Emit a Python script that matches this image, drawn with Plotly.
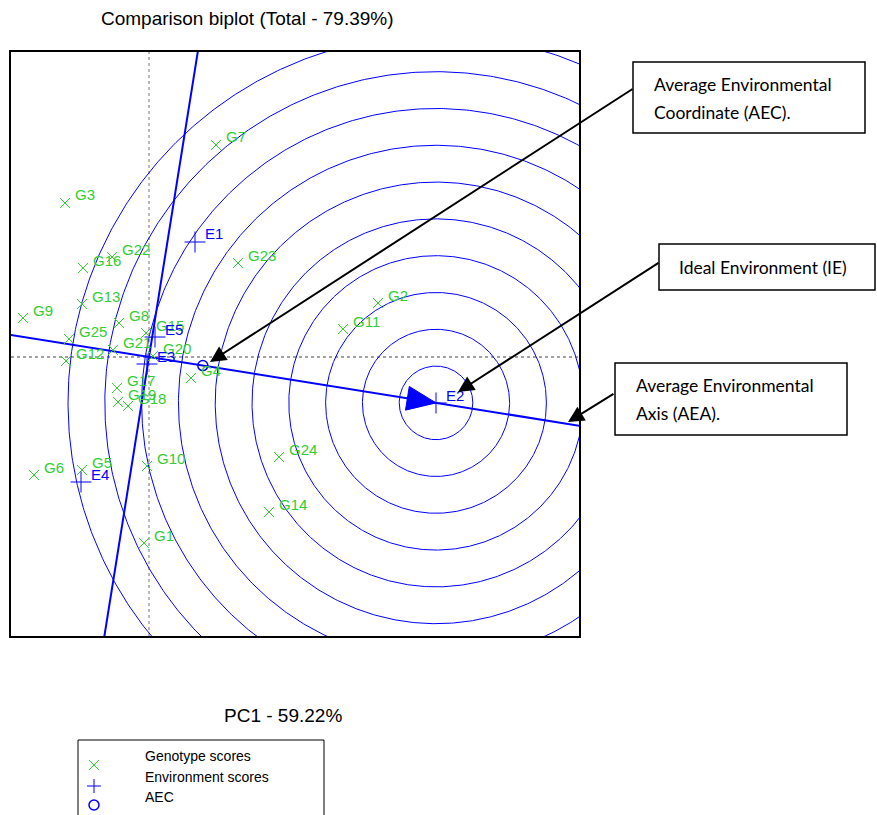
import numpy as np
import plotly.graph_objects as go

W, H = 877, 815

# Genotype scores (PC1, PC2)
geno_names = [f"G{i}" for i in range(1, 26)]
geno_pc1 = [-0.10, 4.58, -1.68, 0.84, -1.34, -2.30, 1.34, -0.60, -2.52, -0.04,
            3.88, -1.66, -1.34, 2.40, -0.06, -1.32, -0.64, -0.42, -0.62, 0.08,
            -0.72, -0.74, 1.78, 2.60, -1.60]
geno_pc2 = [-3.72, 1.08, 3.08, -0.42, -2.26, -2.36, 4.24, 0.68, 0.78, -2.18,
            0.56, -0.08, 1.06, -3.10, 0.48, 1.78, -0.62, -0.98, -0.90, 0.02,
            0.14, 2.00, 1.88, -2.00, 0.36]

# Environment scores (PC1, PC2)
env_names = ["E1", "E2", "E3", "E4", "E5"]
env_pc1 = [0.92, 5.74, -0.04, -1.36, 0.12]
env_pc2 = [2.30, -0.92, -0.14, -2.50, 0.40]

title_text = "Comparison biplot (Total - 79.39%)"
xlab_text = "PC1 - 59.22%"
legend_items = ["Genotype scores", "Environment scores", "AEC"]

GREEN = "#33CC33"
BLUE = "#0000FF"
RING_STEP = 0.736
N_RINGS = 10

# canvas pixel -> paper helpers (margins are zero, so paper == canvas)
def px(x):
    return x / W

def py(y):
    return 1 - y / H

# plot frame in canvas pixels, 50 px per score unit, origin at (149, 357)
L, R, T, B = 11, 579, 52, 636
OX, OY, S = 149, 357, 50.0
xr = [(L - OX) / S, (R - OX) / S]
yr = [(OY - B) / S, (OY - T) / S]

E = np.column_stack([env_pc1, env_pc2])
aec = E.mean(axis=0)
u = aec / np.linalg.norm(aec)
v = np.array([-u[1], u[0]])
ideal = u * np.linalg.norm(E, axis=1).max()

fig = go.Figure()

# concentric rings around the ideal environment
th = np.linspace(0, 2 * np.pi, 721)
for k in range(1, N_RINGS + 1):
    r = k * RING_STEP
    fig.add_trace(go.Scatter(x=ideal[0] + r * np.cos(th), y=ideal[1] + r * np.sin(th),
                             mode="lines", line=dict(color=BLUE, width=1),
                             hoverinfo="skip", showlegend=False))

# average environment axis and its perpendicular through the origin
t = np.array([-30, 30])
fig.add_trace(go.Scatter(x=t * u[0], y=t * u[1], mode="lines",
                         line=dict(color=BLUE, width=2), showlegend=False))
fig.add_trace(go.Scatter(x=t * v[0], y=t * v[1], mode="lines",
                         line=dict(color=BLUE, width=2), showlegend=False))

# arrow head on the AEA pointing at the ideal environment
base = ideal - 0.58 * u
tri = np.array([ideal, base + 0.24 * v, base - 0.24 * v, ideal])
fig.add_trace(go.Scatter(x=tri[:, 0], y=tri[:, 1], mode="lines", fill="toself",
                         fillcolor=BLUE, line=dict(color=BLUE, width=1),
                         showlegend=False))

# genotypes
fig.add_trace(go.Scatter(x=geno_pc1, y=geno_pc2, mode="markers",
                         marker=dict(symbol="x-thin", size=10,
                                     line=dict(color=GREEN, width=1)),
                         showlegend=False))

# environments
fig.add_trace(go.Scatter(x=env_pc1, y=env_pc2, mode="markers",
                         marker=dict(symbol="cross-thin", size=15,
                                     line=dict(color=BLUE, width=1)),
                         showlegend=False))

# average environment coordinate
fig.add_trace(go.Scatter(x=[aec[0]], y=[aec[1]], mode="markers",
                         marker=dict(symbol="circle-open", size=10,
                                     line=dict(color=BLUE, width=1.5), color=BLUE),
                         showlegend=False))

annotations = []

# point labels, offset up and to the right of each marker
def point_labels(names, xs, ys, color):
    for n, x, y in zip(names, xs, ys):
        annotations.append(dict(text=n, x=x, y=y, xref="x", yref="y",
                                showarrow=False, xanchor="left", yanchor="middle",
                                xshift=8, yshift=8,
                                font=dict(family="Liberation Sans", size=15, color=color)))

point_labels(geno_names, geno_pc1, geno_pc2, GREEN)
point_labels(env_names, env_pc1, env_pc2, BLUE)

shapes = []
# dotted reference lines through the origin
shapes.append(dict(type="line", xref="x", yref="paper", x0=0, x1=0,
                   y0=py(B), y1=py(T), line=dict(color="#777777", width=1, dash="dot"),
                   layer="below"))
shapes.append(dict(type="line", xref="paper", yref="y", x0=px(L), x1=px(R),
                   y0=0, y1=0, line=dict(color="#444444", width=1, dash="dot"),
                   layer="below"))

# callout boxes
boxes = [(633, 62, 865, 133), (659, 244, 875, 290), (615, 363, 847, 435)]
for x0, y0, x1, y1 in boxes:
    shapes.append(dict(type="rect", xref="paper", yref="paper",
                       x0=px(x0), x1=px(x1), y0=py(y1), y1=py(y0),
                       line=dict(color="black", width=1.5), fillcolor="white"))

# legend box and symbols
shapes.append(dict(type="rect", xref="paper", yref="paper",
                   x0=px(78), x1=px(324), y0=py(830), y1=py(740),
                   line=dict(color="black", width=1)))
gx, gy, d = 94, 765, 5
shapes.append(dict(type="line", xref="paper", yref="paper", x0=px(gx - d), x1=px(gx + d),
                   y0=py(gy - d), y1=py(gy + d), line=dict(color=GREEN, width=1)))
shapes.append(dict(type="line", xref="paper", yref="paper", x0=px(gx - d), x1=px(gx + d),
                   y0=py(gy + d), y1=py(gy - d), line=dict(color=GREEN, width=1)))
ex, ey, d = 94, 786, 7
shapes.append(dict(type="line", xref="paper", yref="paper", x0=px(ex - d), x1=px(ex + d),
                   y0=py(ey), y1=py(ey), line=dict(color=BLUE, width=1)))
shapes.append(dict(type="line", xref="paper", yref="paper", x0=px(ex), x1=px(ex),
                   y0=py(ey - d), y1=py(ey + d), line=dict(color=BLUE, width=1)))
cx, cy, d = 94, 805, 5
shapes.append(dict(type="circle", xref="paper", yref="paper", x0=px(cx - d), x1=px(cx + d),
                   y0=py(cy + d), y1=py(cy - d), line=dict(color=BLUE, width=1.5)))

annotations.append(dict(text=title_text, x=px(247), y=py(19), xref="paper", yref="paper",
                        showarrow=False, xanchor="center", yanchor="middle",
                        font=dict(family="Liberation Sans", size=19, color="black")))
annotations.append(dict(text=xlab_text, x=px(283), y=py(715), xref="paper", yref="paper",
                        showarrow=False, xanchor="center", yanchor="middle",
                        font=dict(family="Liberation Sans", size=19, color="black")))

for i, lab in enumerate(legend_items):
    annotations.append(dict(text=lab, x=px(143), y=py(756 + 20.5 * i), xref="paper",
                            yref="paper", showarrow=False, xanchor="left",
                            yanchor="middle",
                            font=dict(family="Liberation Sans", size=14, color="black")))

callout_lines = [("Average Environmental", 652, 85), ("Coordinate (AEC).", 652, 113),
                 ("Ideal Environment (IE)", 677, 267),
                 ("Average Environmental", 634, 386), ("Axis (AEA).", 634, 414)]
for txt, x, y in callout_lines:
    annotations.append(dict(text=txt, x=px(x), y=py(y), xref="paper", yref="paper",
                            showarrow=False, xanchor="left", yanchor="middle",
                            font=dict(family="Lato", size=17.5, color="black")))

# pointer arrows: (tip, tail) in canvas pixels
arrows = [((210, 362), (634, 88)), ((458, 392), (660, 262)), ((568, 422), (615, 393))]
for (tx, ty), (sx, sy) in arrows:
    annotations.append(dict(text="", x=px(tx), y=py(ty), xref="paper", yref="paper",
                            ax=sx - tx, ay=sy - ty, axref="pixel", ayref="pixel",
                            showarrow=True, arrowhead=2, arrowsize=1.6, arrowwidth=2,
                            arrowcolor="black"))

fig.update_layout(
    width=W, height=H,
    margin=dict(l=0, r=0, t=0, b=0, pad=0),
    paper_bgcolor="white", plot_bgcolor="white",
    shapes=shapes, annotations=annotations,
    showlegend=False,
    xaxis=dict(domain=[px(L), px(R)], range=xr, showgrid=False, zeroline=False,
               showticklabels=False, ticks="", showline=True, mirror=True,
               linecolor="black", linewidth=2),
    yaxis=dict(domain=[py(B), py(T)], range=yr, showgrid=False, zeroline=False,
               showticklabels=False, ticks="", showline=True, mirror=True,
               linecolor="black", linewidth=2),
)

fig.write_html("out.html")
